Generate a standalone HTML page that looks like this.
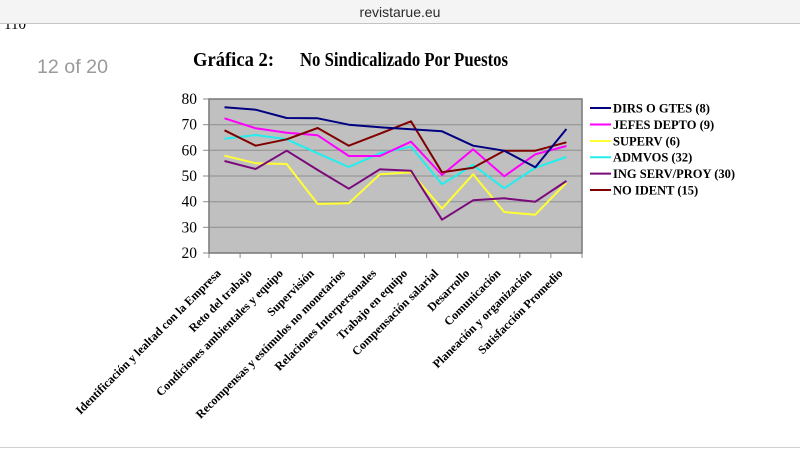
<!DOCTYPE html>
<html><head><meta charset="utf-8"><style>
html,body{margin:0;padding:0;background:#fff;}
body{width:800px;height:449px;overflow:hidden;position:relative;}
svg{display:block;}
</style></head><body>
<svg width="800" height="449" viewBox="0 0 800 449" xmlns="http://www.w3.org/2000/svg">
<rect x="0" y="0" width="800" height="449" fill="#ffffff"/>
<!-- partial page number under bar -->
<text x="4" y="29" font-family="Liberation Serif, serif" font-size="15" fill="#000">110</text>
<!-- browser bar -->
<rect x="0" y="0" width="800" height="23" fill="#f4f4f4"/>
<line x1="0" y1="23.5" x2="800" y2="23.5" stroke="#c4c4c4" stroke-width="1"/>
<text x="400" y="17" text-anchor="middle" font-family="Liberation Sans, sans-serif" font-size="14" fill="#2a2a2a">revistarue.eu</text>
<!-- page counter -->
<text x="37" y="73" font-family="Liberation Sans, sans-serif" font-size="19.5" fill="#9a9a9a" textLength="71" lengthAdjust="spacingAndGlyphs">12 of 20</text>
<!-- title -->
<text x="193" y="66" font-family="Liberation Serif, serif" font-weight="bold" font-size="20" fill="#000" textLength="81" lengthAdjust="spacingAndGlyphs">Gráfica 2:</text>
<text x="300" y="66" font-family="Liberation Serif, serif" font-weight="bold" font-size="20" fill="#000" textLength="208" lengthAdjust="spacingAndGlyphs">No Sindicalizado Por Puestos</text>

<!-- plot area -->
<rect x="209" y="99" width="373" height="154" fill="#c0c0c0"/>
<g stroke="#8e8e8e" stroke-width="1">
<line x1="209" y1="124.7" x2="582" y2="124.7"/>
<line x1="209" y1="150.3" x2="582" y2="150.3"/>
<line x1="209" y1="176" x2="582" y2="176"/>
<line x1="209" y1="201.7" x2="582" y2="201.7"/>
<line x1="209" y1="227.3" x2="582" y2="227.3"/>
</g>
<!-- y ticks -->
<g stroke="#8a8a8a" stroke-width="1">
<line x1="203" y1="99" x2="209" y2="99"/>
<line x1="203" y1="124.7" x2="209" y2="124.7"/>
<line x1="203" y1="150.3" x2="209" y2="150.3"/>
<line x1="203" y1="176" x2="209" y2="176"/>
<line x1="203" y1="201.7" x2="209" y2="201.7"/>
<line x1="203" y1="227.3" x2="209" y2="227.3"/>
<line x1="203" y1="253" x2="209" y2="253"/>
</g>
<!-- x ticks -->
<g stroke="#8a8a8a" stroke-width="1">
<line x1="209" y1="253" x2="209" y2="258"/>
<line x1="240.1" y1="253" x2="240.1" y2="258"/>
<line x1="271.2" y1="253" x2="271.2" y2="258"/>
<line x1="302.3" y1="253" x2="302.3" y2="258"/>
<line x1="333.3" y1="253" x2="333.3" y2="258"/>
<line x1="364.4" y1="253" x2="364.4" y2="258"/>
<line x1="395.5" y1="253" x2="395.5" y2="258"/>
<line x1="426.6" y1="253" x2="426.6" y2="258"/>
<line x1="457.7" y1="253" x2="457.7" y2="258"/>
<line x1="488.7" y1="253" x2="488.7" y2="258"/>
<line x1="519.8" y1="253" x2="519.8" y2="258"/>
<line x1="550.9" y1="253" x2="550.9" y2="258"/>
<line x1="582" y1="253" x2="582" y2="258"/>
</g>
<rect x="209" y="99" width="373" height="154" fill="none" stroke="#7e7e7e" stroke-width="1.6"/>

<!-- y labels -->
<g font-family="Liberation Serif, serif" font-size="15.5" fill="#000" text-anchor="end">
<text x="197" y="104">80</text>
<text x="197" y="129.7">70</text>
<text x="197" y="155.3">60</text>
<text x="197" y="181">50</text>
<text x="197" y="206.7">40</text>
<text x="197" y="232.3">30</text>
<text x="197" y="258">20</text>
</g>

<!-- series -->
<g fill="none" stroke-width="2" stroke-linejoin="round">
<polyline stroke="#ffff33" points="224.5,155.7 255.6,163.3 286.7,164 317.7,204 348.8,203.3 379.9,174.3 411,172.3 442,208.7 473.1,174.3 504.2,212 535.3,214.7 566.4,182.7"/>
<polyline stroke="#22eeee" points="224.5,138.7 255.6,135 286.7,139.3 317.7,153.3 348.8,167 379.9,153.3 411,146.7 442,184.3 473.1,165 504.2,188.3 535.3,167.7 566.4,157"/>
<polyline stroke="#ff00ff" points="224.5,118.3 255.6,128.3 286.7,132.7 317.7,135.3 348.8,156 379.9,156 411,141.7 442,175 473.1,149.3 504.2,176.3 535.3,154.3 566.4,146"/>
<polyline stroke="#7a0a7a" points="224.5,161 255.6,169 286.7,150.7 317.7,170 348.8,188.7 379.9,169.3 411,170.7 442,219.7 473.1,200.3 504.2,198.3 535.3,201.7 566.4,181"/>
<polyline stroke="#800000" points="224.5,130.3 255.6,145.7 286.7,139.3 317.7,128 348.8,145.7 379.9,133.7 411,121.3 442,172.3 473.1,167.7 504.2,150.7 535.3,150.7 566.4,142.3"/>
<polyline stroke="#000080" points="224.5,107.3 255.6,109.7 286.7,118 317.7,118.3 348.8,124.7 379.9,127.3 411,129.3 442,131.3 473.1,145.7 504.2,150.7 535.3,167.3 566.4,129"/>
</g>

<!-- legend -->
<g stroke-width="2">
<line x1="590" y1="108" x2="611" y2="108" stroke="#000080"/>
<line x1="590" y1="124.5" x2="611" y2="124.5" stroke="#ff00ff"/>
<line x1="590" y1="141" x2="611" y2="141" stroke="#ffff33"/>
<line x1="590" y1="157.3" x2="611" y2="157.3" stroke="#22eeee"/>
<line x1="590" y1="173.6" x2="611" y2="173.6" stroke="#7a0a7a"/>
<line x1="590" y1="190" x2="611" y2="190" stroke="#800000"/>
</g>
<g font-family="Liberation Serif, serif" font-weight="bold" font-size="12.5" fill="#000">
<text x="613" y="112.3">DIRS O GTES (8)</text>
<text x="613" y="128.8">JEFES DEPTO (9)</text>
<text x="613" y="145.3">SUPERV (6)</text>
<text x="613" y="161.6">ADMVOS (32)</text>
<text x="613" y="177.9">ING SERV/PROY (30)</text>
<text x="613" y="194.3">NO IDENT (15)</text>
</g>

<!-- x labels -->
<g font-family="Liberation Serif, serif" font-weight="bold" font-size="12" fill="#000" text-anchor="end">
<text transform="translate(221.5,274) rotate(-45)">Identificación y lealtad con la Empresa</text>
<text transform="translate(252.6,274) rotate(-45)">Reto del trabajo</text>
<text transform="translate(283.7,274) rotate(-45)">Condiciones ambientales y equipo</text>
<text transform="translate(314.7,274) rotate(-45)">Supervisión</text>
<text transform="translate(345.8,274) rotate(-45)">Recompensas y estímulos no monetarios</text>
<text transform="translate(376.9,274) rotate(-45)">Relaciones Interpersonales</text>
<text transform="translate(408,274) rotate(-45)">Trabajo en equipo</text>
<text transform="translate(439,274) rotate(-45)">Compensación salarial</text>
<text transform="translate(470.1,274) rotate(-45)">Desarrollo</text>
<text transform="translate(501.2,274) rotate(-45)">Comunicación</text>
<text transform="translate(532.3,274) rotate(-45)">Planeación y organización</text>
<text transform="translate(563.4,274) rotate(-45)">Satisfacción Promedio</text>
</g>

<line x1="0" y1="447.5" x2="800" y2="447.5" stroke="#d0d0d0" stroke-width="1"/>
</svg>
</body></html>
